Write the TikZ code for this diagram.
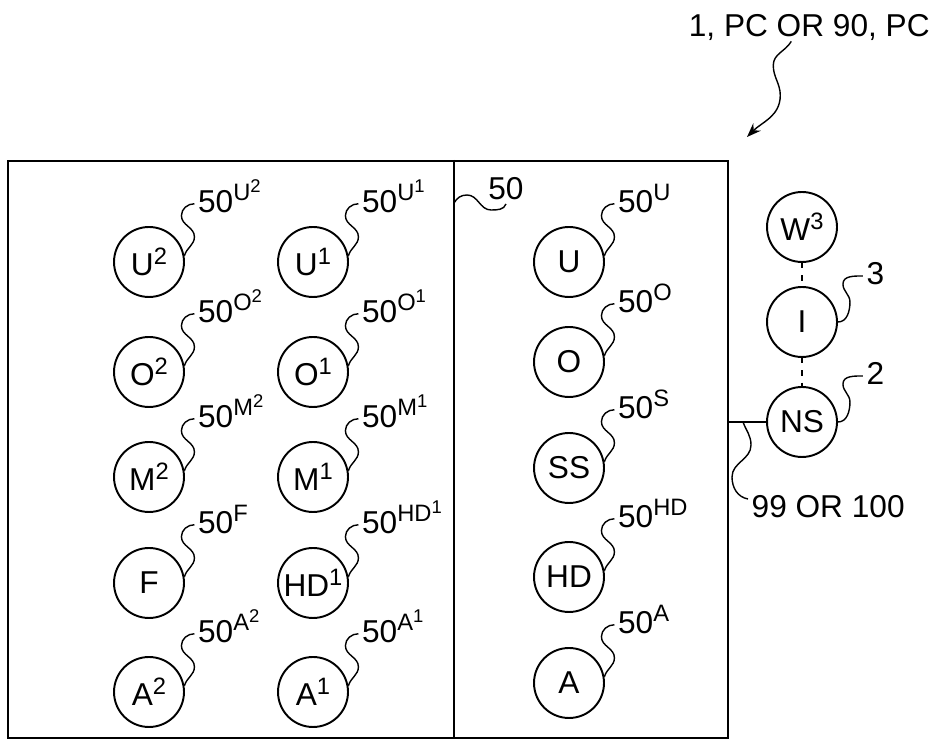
\documentclass[tikz,border=0pt]{standalone}
\usepackage{fontspec}
\setmainfont{Liberation Sans}
\usetikzlibrary{arrows.meta}
\tikzset{
  stage/.style={circle, draw, line width=1.1pt, minimum size=1.4cm, inner sep=0pt},
  leader/.style={line width=0.8pt},
  linkdash/.style={line width=1pt, dash pattern=on 3pt off 4pt},
  tag/.style={anchor=base west, inner sep=0pt, xshift=0.06cm, yshift=-0.17cm},
}
\newcommand{\sq}[1]{\raisebox{6.5pt}{\fontsize{13.5}{14}\selectfont #1}}
\newcommand{\sqq}[1]{\raisebox{4.5pt}{\fontsize{10.5}{11}\selectfont #1}}

\begin{document}
\begin{tikzpicture}[x=0.02cm, y=0.02cm, font=\fontsize{18}{21}\selectfont]
    \useasboundingbox (0,0) rectangle (939,743);
    % Cadre et separation
    \node[draw, line width=1.2pt, minimum width=14.4cm, minimum height=11.54cm, inner sep=0pt] (box) at (368,293.5) {};
    \coordinate (div) at (454,293);
    \draw[line width=1.2pt] (div |- box.north) -- (div |- box.south);
    % Cercles et renvois
    \foreach \nm/\txt/\lb/\x/\y in {
        u2/U\sq{2}/U\sqq{2}/149/481, o2/O\sq{2}/O\sqq{2}/149/371,
        m2/M\sq{2}/M\sqq{2}/149/266, f/F/F/149/160, a2/A\sq{2}/A\sqq{2}/149/51,
        u1/U\sq{1}/U\sqq{1}/313/481, o1/O\sq{1}/O\sqq{1}/313/371,
        m1/M\sq{1}/M\sqq{1}/313/266, hd1/HD\sq{1}/HD\sqq{1}/313/160, a1/A\sq{1}/A\sqq{1}/313/51,
        u/U/U/569/481, o/O/O/569/381, ss/SS/S/569/275, hd/HD/HD/569/166, a/A/A/569/60}
    {
        \node[stage] (\nm) at (\x,\y) {\txt};
        \draw[leader] (\nm.10) to[out=75,in=-90] ++(10,19) to[out=90,in=-90] ++(-13,21)
            to[out=90,in=180] ++(13,12) node[tag] {50\sq{\lb}};
    }
    % Renvoi 50
    \coordinate (d50) at (454,540);
    \draw[leader] (d50) to[out=60,in=180] ++(13,8) to[out=0,in=180] ++(24,-15) to[out=0,in=-110] ++(15,6);
    \node[anchor=base west, inner sep=0pt] (n50) at (488,543) {50};
    % Chaine a droite
    \node[stage] (W) at (802,516) {W\sq{3}};
    \node[stage] (I) at (802,421) {I};
    \node[stage] (NS) at (802,321) {NS};
    \draw[linkdash] (W) -- (I);
    \draw[linkdash] (I) -- (NS);
    \draw[leader] (I.east) to[out=0,in=-90] ++(12,20) to[out=90,in=-90] ++(-7,18)
        to[out=90,in=180] ++(20,8) node[tag] {3};
    \draw[leader] (NS.east) to[out=0,in=-90] ++(12,20) to[out=90,in=-90] ++(-7,18)
        to[out=90,in=180] ++(20,8) node[tag] {2};
    % Liaison vers le cadre
    \draw[line width=1pt] (NS.west) -- (NS.west -| box.east);
    \coordinate (j) at (743,321);
    \draw[leader] (j) to[out=-70,in=90] (751,298) to[out=-90,in=90] (732,266)
        to[out=-90,in=170] (748,244) node[tag, yshift=-0.2cm] {99 OR 100};
    % Titre et fleche
    \node[anchor=base east, inner sep=0pt] (title) at (930,706) {1, PC OR 90, PC};
    \coordinate (tip) at (747,606);
    \draw[leader, -{Stealth[length=8pt,width=6pt]}] ([xshift=-0.36cm]title.south)
        to[out=-120,in=90] ++(-18,-24) to[out=-90,in=90] ++(7,-30) to[out=-90,in=45] (tip);
\end{tikzpicture}
\end{document}
